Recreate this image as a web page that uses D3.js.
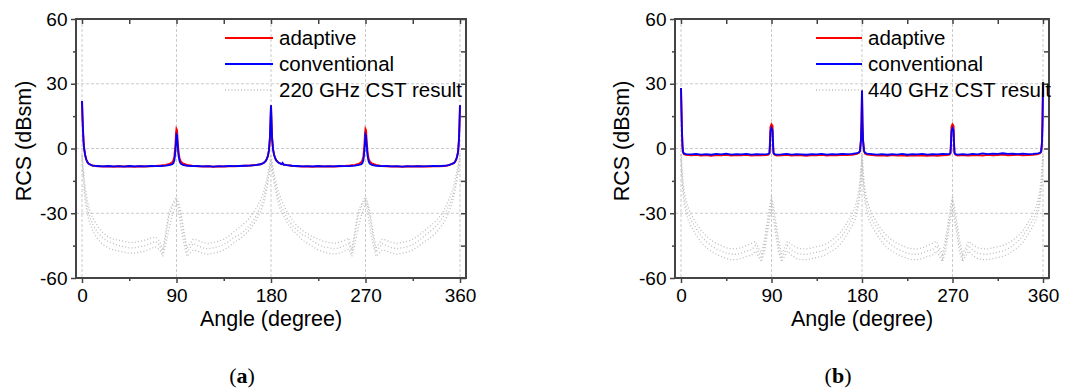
<!DOCTYPE html>
<html>
<head>
<meta charset="utf-8">
<script src="https://cdn.jsdelivr.net/npm/d3@7"></script>
<style>
  body { margin: 0; background: #fff; }
  svg { display: block; }
</style>
</head>
<body>
<div id="chart"></div>
<script>
const angleTicks = [0, 90, 180, 270, 360];
const angleMinor = [45, 135, 225, 315];
const rcsTicks = [-60, -30, 0, 30, 60];
const rcsMinor = [-45, -15, 15, 45];
const gridRcs = [-30, 0, 30];
const seriesNames = ["adaptive", "conventional"];
const cstLabels = ["220 GHz CST result", "440 GHz CST result"];
const panelTags = ["a", "b"];

// angles of the CST simulation samples (degree)
const cstAngles = [
  0, 1, 2, 3, 5, 7, 10, 15, 20, 25,
  30, 35, 40, 45, 50, 55, 60, 65, 70, 74,
  77, 80, 83, 86, 88, 90, 92, 94, 97, 100,
  103, 106, 110, 115, 120, 125, 130, 135, 140, 145,
  150, 155, 160, 165, 170, 173, 175, 177, 178, 179,
  180, 181, 182, 183, 185, 187, 190, 195, 200, 205,
  210, 215, 220, 225, 230, 235, 240, 245, 250, 254,
  257, 260, 263, 266, 268, 270, 272, 274, 277, 280,
  283, 286, 290, 295, 300, 305, 310, 315, 320, 325,
  330, 335, 340, 345, 350, 353, 355, 357, 358, 359,
  360
];

// 220 GHz CST (dBsm)
const cstA1 = [
  -2, -8, -13, -18, -24, -28, -32, -36, -39, -41,
  -42, -42.5, -43, -43.5, -43.5, -43, -42.5, -41.5, -41, -43,
  -47, -38, -29, -26, -24, -22.5, -25, -29, -38, -46,
  -44, -42, -42.5, -43.5, -44, -43.5, -43, -42, -40.5, -38.5,
  -36.5, -34.5, -32, -28.5, -24, -20, -16, -12, -9, -6,
  -3, -6, -9, -12, -16, -20, -24, -29, -33, -36,
  -38, -39.5, -41, -42, -43, -43.5, -44, -43.5, -42.5, -41.5,
  -47, -38, -29, -26, -24, -22.5, -25, -29, -38, -46,
  -44, -42, -42.5, -43.5, -44, -43.5, -43, -42, -40.5, -38.5,
  -36.5, -34.5, -32, -28.5, -23, -19, -15, -11, -8, -5,
  -2
];
const cstA2 = [
  -3, -10, -16, -21, -27, -31, -35, -39, -41.5, -43,
  -44, -45, -45.5, -46, -46, -45.5, -45, -44, -43, -45,
  -49, -40, -31, -27, -25, -23.5, -26, -31, -40, -48,
  -46, -44, -45, -46, -46.5, -46, -45.5, -44.5, -43, -41,
  -40, -38, -35.5, -32, -27, -23, -19, -14, -11, -8,
  -5, -8, -11, -14, -19, -23, -27, -32, -35.5, -38,
  -40, -41, -43, -44.5, -45.5, -46, -46.5, -46, -45, -44,
  -48.5, -40, -31, -27, -25, -23.5, -26, -31, -40, -48,
  -46, -44, -45, -46, -46.5, -46, -45.5, -44.5, -43, -41,
  -39, -37, -34.5, -31, -26, -22, -18, -13, -10, -7,
  -3
];
const cstA3 = [
  -4, -12, -19, -24, -30, -34, -38, -42, -44.5, -46,
  -47, -47.5, -48, -48.5, -48.5, -48, -47.5, -46.5, -45.5, -47,
  -50, -44, -37, -31, -28, -25, -29, -36, -44, -50,
  -48.5, -47, -47.5, -48.5, -49, -48.5, -48, -47, -45.5, -43.5,
  -42, -40, -37.5, -34, -29.5, -25.5, -21.5, -16, -12.5, -9,
  -6, -9.5, -13, -16, -21, -25.5, -29.5, -34, -37.5, -40,
  -42.5, -44, -45.5, -47, -48, -48.5, -49, -48.5, -47.5, -46.5,
  -50, -44, -37, -31, -28, -25, -29, -36, -44, -50,
  -48.5, -47, -47.5, -48.5, -49, -48.5, -48, -47, -45.5, -43.5,
  -42, -40, -37.5, -34, -29, -24.5, -20, -15, -12, -9,
  -4
];

// 440 GHz CST (dBsm)
const cstB1 = [
  -1, -9, -15, -19, -24, -27, -30.5, -34.5, -38, -40.5,
  -42.5, -44, -45, -46, -46.5, -46.5, -46, -45, -44, -43,
  -46, -49, -42, -33, -27, -22, -27, -33, -42, -49,
  -46, -43, -44.5, -46, -46.5, -46.5, -46, -45.5, -45, -44,
  -42.5, -40.5, -38, -34.5, -30.5, -27, -24, -19, -15, -9,
  -1, -9, -15, -19, -24, -27, -30.5, -34.5, -38, -40.5,
  -42.5, -44, -45, -46, -46.5, -46.5, -46, -45, -44, -43,
  -46, -49, -42, -33, -27, -22, -27, -33, -42, -49,
  -46, -43, -44.5, -46, -46.5, -46.5, -46, -45.5, -45, -44,
  -42.5, -40.5, -38, -34.5, -30.5, -27, -24, -19, -15, -9,
  -1
];
const cstB2 = [
  -3, -12, -18, -22, -27, -30, -33, -37, -40.5, -43,
  -45, -46.5, -47.5, -48.5, -49, -49, -48.5, -47.5, -47, -45,
  -48, -51, -45, -36, -30, -24, -30, -36, -45, -51,
  -48, -45, -47, -48.5, -49, -49, -48.5, -48, -47.5, -46.5,
  -45, -43, -40.5, -37, -33, -30, -27, -22, -18, -12,
  -3, -12, -18, -22, -27, -30, -33, -37, -40.5, -43,
  -45, -46.5, -47.5, -48.5, -49, -49, -48.5, -47.5, -47, -45,
  -48, -51, -45, -36, -30, -24, -30, -36, -45, -51,
  -48, -45, -47, -48.5, -49, -49, -48.5, -48, -47.5, -46.5,
  -45, -43, -40.5, -37, -33, -30, -27, -22, -18, -12,
  -3
];
const cstB3 = [
  -5, -15, -21, -25, -30, -33, -36, -40, -43.5, -46,
  -47.5, -49, -50, -51, -51.5, -51.5, -51, -50, -49.5, -47.5,
  -50, -52.5, -48, -39, -33, -27, -33, -39, -48, -52.5,
  -50, -47.5, -49.5, -51, -51.5, -51.5, -51, -50.5, -50, -49,
  -47.5, -46, -43.5, -40, -36, -33, -30, -25, -21, -15,
  -5, -15, -21, -25, -30, -33, -36, -40, -43.5, -46,
  -47.5, -49, -50, -51, -51.5, -51.5, -51, -50, -49.5, -47.5,
  -50, -52.5, -48, -39, -33, -27, -33, -39, -48, -52.5,
  -50, -47.5, -49.5, -51, -51.5, -51.5, -51, -50.5, -50, -49,
  -47.5, -46, -43.5, -40, -36, -33, -30, -25, -21, -15,
  -5
];

// measured RCS, [angle, dBsm]
const adaptiveA = [
  [0,22],[0.5,14],[1,8],[1.5,3],[2,0],[3,-3],[4,-5],[5,-6.2],[6,-6.9],[8,-7.5],
  [10,-7.9],[15,-8.2],[20,-8.3],[25,-8.2],[30,-8.4],[35,-8.2],[40,-8.3],[45,-8.2],[50,-8.4],[55,-8.2],
  [60,-8.3],[65,-8.2],[70,-8.1],[75,-7.9],[80,-7.6],[84,-7],[86,-6.4],[87,-5.6],[88,-3.8],[89,1.5],
  [89.5,6.5],[90,9],[90.5,8.5],[91,4],[92,-2],[93,-4.8],[94,-6],[96,-6.9],[100,-7.6],[105,-8],
  [110,-8.2],[115,-8.3],[120,-8.2],[125,-8.4],[130,-8.3],[135,-8.3],[140,-8.2],[145,-8.2],[150,-8.1],[155,-8],
  [160,-7.9],[165,-7.7],[170,-7.3],[173,-6.7],[175,-5.8],[176,-4.8],[177,-3.5],[178,-1],[179,5],[180,20],
  [181,5],[182,-0.5],[183,-3],[184,-4.5],[185,-5.5],[187,-6.5],[190,-7.2],[195,-7.7],[200,-8],[205,-8.2],
  [210,-8.3],[215,-8.3],[220,-8.4],[225,-8.2],[230,-8.3],[235,-8.3],[240,-8.3],[245,-8.2],[250,-8.1],[255,-7.9],
  [260,-7.6],[264,-7],[266,-6.4],[267,-5.6],[268,-3.8],[269,1.5],[269.5,6.5],[270,9],[270.5,8.5],[271,4],
  [272,-2],[273,-4.8],[274,-6],[276,-6.9],[280,-7.6],[285,-8.1],[290,-8.2],[295,-8.3],[300,-8.3],[305,-8.4],
  [310,-8.3],[315,-8.3],[320,-8.2],[325,-8.3],[330,-8.3],[335,-8.2],[340,-8.2],[345,-8.1],[348,-7.9],[350,-7.6],
  [352,-7.2],[354,-6.8],[355,-6.3],[356,-5.5],[357,-4.2],[358,-2],[358.5,0.5],[359,4],[359.5,11],[360,20]
];
const conventionalA = [
  [0,22],[0.5,14],[1,8],[1.5,3],[2,0],[3,-3],[4,-5],[5,-6.2],[6,-6.9],[8,-7.5],
  [10,-7.9],[15,-8.1],[20,-8.3],[25,-8.1],[30,-8.3],[35,-8.2],[40,-8.4],[45,-8.1],[50,-8.3],[55,-8.2],
  [60,-8.3],[65,-8.1],[70,-8.2],[75,-8.1],[80,-7.9],[84,-7.6],[86,-7.3],[87,-6.8],[88,-5.5],[89,-1],
  [89.5,3],[90,6.5],[90.5,6],[91,2],[92,-3.5],[93,-6],[94,-7],[96,-7.6],[100,-8],[105,-8.2],
  [110,-8.1],[115,-8.3],[120,-8.2],[125,-8.4],[130,-8.2],[135,-8.3],[140,-8.1],[145,-8.2],[150,-8.1],[155,-8],
  [160,-7.9],[165,-7.7],[170,-7.3],[173,-6.7],[175,-5.8],[176,-4.8],[177,-3.5],[178,-1],[179,5],[180,20],
  [181,5],[182,-0.5],[183,-3],[184,-4.5],[185,-5.5],[187,-6.5],[190,-7.2],[191,-6.6],[192,-7.5],[195,-7.7],
  [200,-8],[205,-8.1],[210,-8.3],[215,-8.2],[220,-8.3],[225,-8.1],[230,-8.3],[235,-8.2],[240,-8.3],[245,-8.1],
  [250,-8.2],[255,-8.1],[260,-7.9],[264,-7.6],[266,-7.3],[267,-6.8],[268,-5.5],[269,-1],[269.5,3],[270,6.5],
  [270.5,6],[271,2],[272,-3.5],[273,-6],[274,-7],[276,-7.6],[280,-8],[285,-8.2],[290,-8.1],[295,-8.3],
  [300,-8.2],[305,-8.4],[310,-8.2],[315,-8.3],[320,-8.2],[325,-8.3],[330,-8.2],[335,-8.1],[340,-8.2],[345,-8],
  [348,-7.8],[350,-7.6],[352,-7.2],[354,-6.8],[355,-6.3],[356,-5.5],[357,-4.2],[358,-2],[358.5,0.5],[359,4],
  [359.5,11],[360,20]
];
const adaptiveB = [
  [0,28],[0.5,17],[1,7],[1.5,1],[2,-1.8],[3,-2.6],[5,-2.9],[10,-3.1],[15,-2.9],[20,-3.2],
  [25,-3],[30,-3.3],[35,-3],[40,-3.1],[45,-2.9],[50,-3.2],[55,-3],[60,-3.1],[65,-2.9],[70,-3.2],
  [75,-3],[80,-3.1],[85,-3],[87,-2.8],[88,-2.2],[88.5,3],[89,10],[90,11.2],[91,10.5],[91.5,3],
  [92,-2.2],[93,-2.9],[95,-3.2],[100,-3.1],[105,-2.9],[110,-3.2],[115,-3],[120,-3.1],[125,-3.3],[130,-3],
  [135,-3.1],[140,-2.9],[145,-3.2],[150,-3],[155,-3.1],[160,-2.9],[165,-3],[170,-2.9],[175,-2.5],[177,-2],
  [178,-1.2],[179,4],[179.5,12],[180,27],[180.5,12],[181,4],[182,-1.2],[183,-2.3],[185,-2.8],[190,-3],
  [195,-3.2],[200,-3.1],[205,-3.3],[210,-3],[215,-3.2],[220,-3.1],[225,-3.4],[230,-3.1],[235,-3.3],[240,-3.2],
  [245,-3.4],[250,-3.1],[255,-3.3],[260,-3.1],[265,-3],[267,-2.8],[268,-2.2],[268.5,3],[269,10],[270,11.2],
  [271,10.5],[271.5,3],[272,-2.2],[273,-2.9],[275,-3.2],[280,-3],[285,-3.2],[290,-3.1],[295,-3],[300,-3.2],
  [305,-2.9],[310,-3.1],[315,-3],[320,-2.8],[325,-3.1],[330,-3],[335,-2.9],[340,-3.1],[345,-3],[350,-2.9],
  [355,-2.6],[357,-2.2],[358,-1.7],[358.5,0],[359,3],[359.5,12],[360,30]
];
const conventionalB = [
  [0,28],[0.5,17],[1,7],[1.5,1],[2,-1.5],[3,-2.3],[5,-2.6],[10,-2.7],[15,-2.5],[20,-2.8],
  [25,-2.6],[30,-2.9],[35,-2.5],[40,-2.7],[45,-2.4],[50,-2.8],[55,-2.6],[60,-2.7],[65,-2.5],[70,-2.8],
  [75,-2.6],[80,-2.7],[85,-2.6],[87,-2.5],[88,-2],[88.5,2],[89,8],[90,9.5],[91,8.5],[91.5,2],
  [92,-2],[93,-2.6],[95,-2.8],[100,-2.7],[105,-2.5],[110,-2.8],[115,-2.6],[120,-2.7],[125,-2.9],[130,-2.6],
  [135,-2.7],[140,-2.5],[145,-2.8],[150,-2.6],[155,-2.7],[160,-2.5],[165,-2.6],[170,-2.5],[175,-2.2],[177,-1.8],
  [178,-1],[179,4],[179.5,12],[180,27],[180.5,12],[181,4],[182,-1],[183,-2],[185,-2.4],[190,-2.6],
  [195,-2.8],[200,-2.6],[205,-2.9],[210,-2.6],[215,-2.8],[220,-2.5],[225,-2.9],[230,-2.6],[235,-2.7],[240,-2.5],
  [245,-2.8],[250,-2.6],[255,-2.7],[260,-2.5],[265,-2.6],[267,-2.5],[268,-2],[268.5,2],[269,8],[270,9.5],
  [271,8.5],[271.5,2],[272,-2],[273,-2.6],[275,-2.8],[280,-2.6],[285,-2.8],[290,-2.5],[295,-2.7],[300,-2.3],
  [305,-2.6],[310,-2.4],[315,-2.5],[320,-2.2],[325,-2.5],[330,-2.4],[335,-2.6],[340,-2.4],[345,-2.6],[350,-2.5],
  [355,-2.3],[357,-2],[358,-1.5],[358.5,0],[359,3],[359.5,12],[360,30]
];

const width = 1084;
const height = 388;
const fontSans = "'Liberation Sans', Arial, sans-serif";
const frameColor = "#444";
const gridColor = "#c4c4c4";
const cstColor = "#bdbdbd";

const panels = [
  { left: 76, right: 466, top: 19, bottom: 278, titleX: 31, legendX: 225, legendW: 48, caption: 242,
    adaptive: adaptiveA, conventional: conventionalA, cst: [cstA1, cstA2, cstA3] },
  { left: 675, right: 1049, top: 19, bottom: 278, titleX: 629, legendX: 816, legendW: 46, caption: 838,
    adaptive: adaptiveB, conventional: conventionalB, cst: [cstB1, cstB2, cstB3] }
];

const svg = d3.select("#chart").append("svg")
  .attr("width", width)
  .attr("height", height)
  .style("background", "#fff");

function styleAxis(sel, labels) {
  sel.select(".domain").remove();
  sel.selectAll(".tick line").attr("stroke", frameColor).attr("stroke-width", 1.5);
  if (labels) {
    sel.selectAll(".tick text")
      .attr("fill", "#000")
      .style("font-family", fontSans)
      .style("font-size", "19px");
  } else {
    sel.selectAll(".tick text").remove();
  }
}

function drawPanel(p, i) {
  const x = d3.scaleLinear().domain([0, 360]).range([p.left + 6, p.right - 6]);
  const y = d3.scaleLinear().domain([-60, 60]).range([p.bottom, p.top]);
  const g = svg.append("g");

  // dashed grid
  g.selectAll(".vgrid").data(angleTicks).enter().append("line")
    .attr("x1", d => x(d)).attr("x2", d => x(d))
    .attr("y1", p.top).attr("y2", p.bottom)
    .attr("stroke", gridColor).attr("stroke-width", 0.9).attr("stroke-dasharray", "3,2");
  g.selectAll(".hgrid").data(gridRcs).enter().append("line")
    .attr("x1", p.left).attr("x2", p.right)
    .attr("y1", d => y(d)).attr("y2", d => y(d))
    .attr("stroke", gridColor).attr("stroke-width", 0.9).attr("stroke-dasharray", "3,2");

  const line = d3.line().x(d => x(d[0])).y(d => y(d[1]));

  // CST simulation, dotted grey
  p.cst.forEach(vals => {
    g.append("path")
      .datum(cstAngles.map((a, k) => [a, vals[k]]))
      .attr("d", line)
      .attr("fill", "none")
      .attr("stroke", cstColor)
      .attr("stroke-width", 1.3)
      .attr("stroke-dasharray", "1,2.2");
  });

  g.append("path").datum(p.adaptive).attr("d", line)
    .attr("fill", "none").attr("stroke", "#ff0000").attr("stroke-width", 2);
  g.append("path").datum(p.conventional).attr("d", line)
    .attr("fill", "none").attr("stroke", "#0000ff").attr("stroke-width", 1.8);

  // axes
  g.append("g").attr("transform", `translate(0,${p.bottom})`)
    .call(d3.axisBottom(x).tickValues(angleTicks).tickSize(5).tickPadding(6).tickFormat(d => String(d)))
    .call(s => styleAxis(s, true));
  g.append("g").attr("transform", `translate(0,${p.bottom})`)
    .call(d3.axisBottom(x).tickValues(angleMinor).tickSize(3))
    .call(s => styleAxis(s, false));
  g.append("g").attr("transform", `translate(0,${p.top})`)
    .call(d3.axisBottom(x).tickValues(angleTicks.concat(angleMinor)).tickSize(5))
    .call(s => styleAxis(s, false));
  g.append("g").attr("transform", `translate(${p.left},0)`)
    .call(d3.axisLeft(y).tickValues(rcsTicks).tickSize(5).tickPadding(3.5).tickFormat(d => String(d)))
    .call(s => styleAxis(s, true));
  g.append("g").attr("transform", `translate(${p.left},0)`)
    .call(d3.axisLeft(y).tickValues(rcsMinor).tickSize(3))
    .call(s => styleAxis(s, false));
  g.append("g").attr("transform", `translate(${p.right},0)`)
    .call(d3.axisLeft(y).tickValues(rcsTicks.concat(rcsMinor)).tickSize(5))
    .call(s => styleAxis(s, false));

  g.append("rect")
    .attr("x", p.left).attr("y", p.top)
    .attr("width", p.right - p.left).attr("height", p.bottom - p.top)
    .attr("fill", "none").attr("stroke", frameColor).attr("stroke-width", 2);

  // axis titles
  g.append("text")
    .attr("transform", `translate(${p.titleX},141) rotate(-90)`)
    .attr("text-anchor", "middle")
    .style("font-family", fontSans).style("font-size", "21.5px")
    .text("RCS (dBsm)");
  g.append("text")
    .attr("x", (p.left + p.right) / 2).attr("y", 326)
    .attr("text-anchor", "middle")
    .style("font-family", fontSans).style("font-size", "21.5px")
    .text("Angle (degree)");

  // legend
  const legendItems = [
    { label: seriesNames[0], color: "#ff0000", dash: null, w: 2 },
    { label: seriesNames[1], color: "#0000ff", dash: null, w: 2 },
    { label: cstLabels[i], color: cstColor, dash: "1,2.2", w: 1.3 }
  ];
  const leg = g.selectAll(".legend").data(legendItems).enter().append("g")
    .attr("transform", (d, k) => `translate(${p.legendX},${38 + k * 26})`);
  leg.append("line")
    .attr("x1", 0).attr("x2", p.legendW)
    .attr("stroke", d => d.color).attr("stroke-width", d => d.w)
    .attr("stroke-dasharray", d => d.dash);
  leg.append("text")
    .attr("x", p.legendW + 6).attr("y", 7)
    .style("font-family", fontSans).style("font-size", "20.5px")
    .text(d => d.label);

  // caption
  const cap = svg.append("text")
    .attr("x", p.caption).attr("y", 383)
    .attr("text-anchor", "middle")
    .style("font-family", "'Liberation Serif', 'Times New Roman', serif")
    .style("font-size", "22px");
  cap.append("tspan").text("(");
  cap.append("tspan").style("font-weight", "bold").text(panelTags[i]);
  cap.append("tspan").text(")");
}

panels.forEach(drawPanel);
</script>
</body>
</html>
